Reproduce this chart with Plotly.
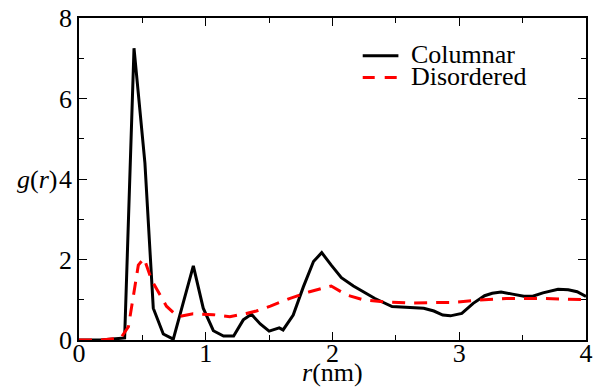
import plotly.graph_objects as go

# Columnar g(r)
r_col = [0.0, 0.17, 0.36, 0.434, 0.52, 0.586, 0.665, 0.744, 0.82, 0.902, 0.98, 1.06, 1.14, 1.22,
         1.296, 1.36, 1.43, 1.50, 1.58, 1.61, 1.69, 1.77, 1.85, 1.915, 1.99, 2.07, 2.165, 2.24,
         2.335, 2.47, 2.64, 2.72, 2.80, 2.87, 2.93, 3.02, 3.11, 3.20, 3.26, 3.33, 3.42, 3.51,
         3.58, 3.66, 3.78, 3.86, 3.93, 4.0]
g_col = [0.0, 0.0, 0.05, 7.25, 4.4, 0.79, 0.15, 0.02, 0.9, 1.84, 0.79, 0.23, 0.1, 0.1,
         0.5, 0.64, 0.4, 0.22, 0.3, 0.25, 0.62, 1.32, 1.95, 2.17, 1.86, 1.55, 1.34, 1.2,
         1.03, 0.83, 0.80, 0.79, 0.72, 0.62, 0.6, 0.66, 0.91, 1.1, 1.16, 1.19, 1.14, 1.09,
         1.09, 1.17, 1.26, 1.25, 1.2, 1.08]

# Disordered g(r)
r_dis = [0.0, 0.17, 0.33, 0.39, 0.468, 0.513, 0.573, 0.64, 0.69, 0.78, 0.90, 1.06, 1.19, 1.32,
         1.40, 1.51, 1.66, 1.82, 1.99, 2.11, 2.24, 2.40, 2.61, 2.82, 2.93, 3.16, 3.37, 3.68, 4.0]
g_dis = [0.0, 0.0, 0.05, 0.33, 1.86, 2.03, 1.49, 1.12, 0.84, 0.58, 0.65, 0.63, 0.58, 0.66,
         0.72, 0.84, 1.03, 1.2, 1.34, 1.12, 1.0, 0.95, 0.92, 0.93, 0.93, 0.99, 1.03, 1.03, 1.0]

legend_names = ["Columnar", "Disordered"]
x_ticks = [0, 1, 2, 3, 4]
y_ticks = [0, 2, 4, 6, 8]

FONT = "Liberation Serif"
FS = 26
DASH = "13px,9px"

fig = go.Figure()
fig.add_trace(go.Scatter(x=r_col, y=g_col, mode="lines",
                         line=dict(color="black", width=3), name=legend_names[0]))
fig.add_trace(go.Scatter(x=r_dis, y=g_dis, mode="lines",
                         line=dict(color="#ff0000", width=3, dash=DASH), name=legend_names[1]))

axis_common = dict(showline=True, linecolor="black", linewidth=1.8, mirror="ticks",
                   ticks="inside", ticklen=8, tickwidth=1.2, tickcolor="black",
                   showgrid=False, zeroline=False, automargin=False,
                   tickfont=dict(family=FONT, size=FS, color="black"))

fig.update_xaxes(range=[0, 4], tickvals=x_ticks, ticktext=[str(v) for v in x_ticks],
                 ticklabelstandoff=-11,
                 minor=dict(dtick=0.5, ticks="inside", ticklen=5, tickwidth=1.2, tickcolor="black"),
                 **axis_common)
fig.update_yaxes(range=[0, 8], tickvals=y_ticks, ticktext=[str(v) for v in y_ticks],
                 minor=dict(dtick=1, ticks="inside", ticklen=5, tickwidth=1.2, tickcolor="black"),
                 **axis_common)

# axis titles
fig.add_annotation(text="<i>r</i>(nm)", x=2, y=0, xref="x", yref="paper",
                   yshift=-32, showarrow=False, yanchor="middle",
                   font=dict(family=FONT, size=FS, color="black"))
fig.add_annotation(text="<i>g</i>(<i>r</i>)", x=0, y=4, xref="paper", yref="y",
                   xshift=-20, xanchor="right", showarrow=False, yanchor="middle",
                   font=dict(family=FONT, size=FS, color="black"))

# legend (manual, tight rows)
leg_rows = [(legend_names[0], "black", "solid", 0.883), (legend_names[1], "#ff0000", "12px,10px", 0.815)]
for name, col, dash, yy in leg_rows:
    fig.add_shape(type="line", xref="paper", yref="paper", x0=0.5596, x1=0.630, y0=yy, y1=yy,
                  line=dict(color=col, width=3, dash=dash))
    fig.add_annotation(text=name, xref="paper", yref="paper", x=0.651, y=yy, yshift=1,
                       xanchor="left", yanchor="middle", showarrow=False,
                       font=dict(family=FONT, size=FS, color="black"))

fig.update_layout(width=605, height=392, margin=dict(l=79, r=19, t=18, b=52),
                  plot_bgcolor="white", paper_bgcolor="white", showlegend=False,
                  font=dict(family=FONT, size=FS, color="black"))

fig.write_html("out.html")
